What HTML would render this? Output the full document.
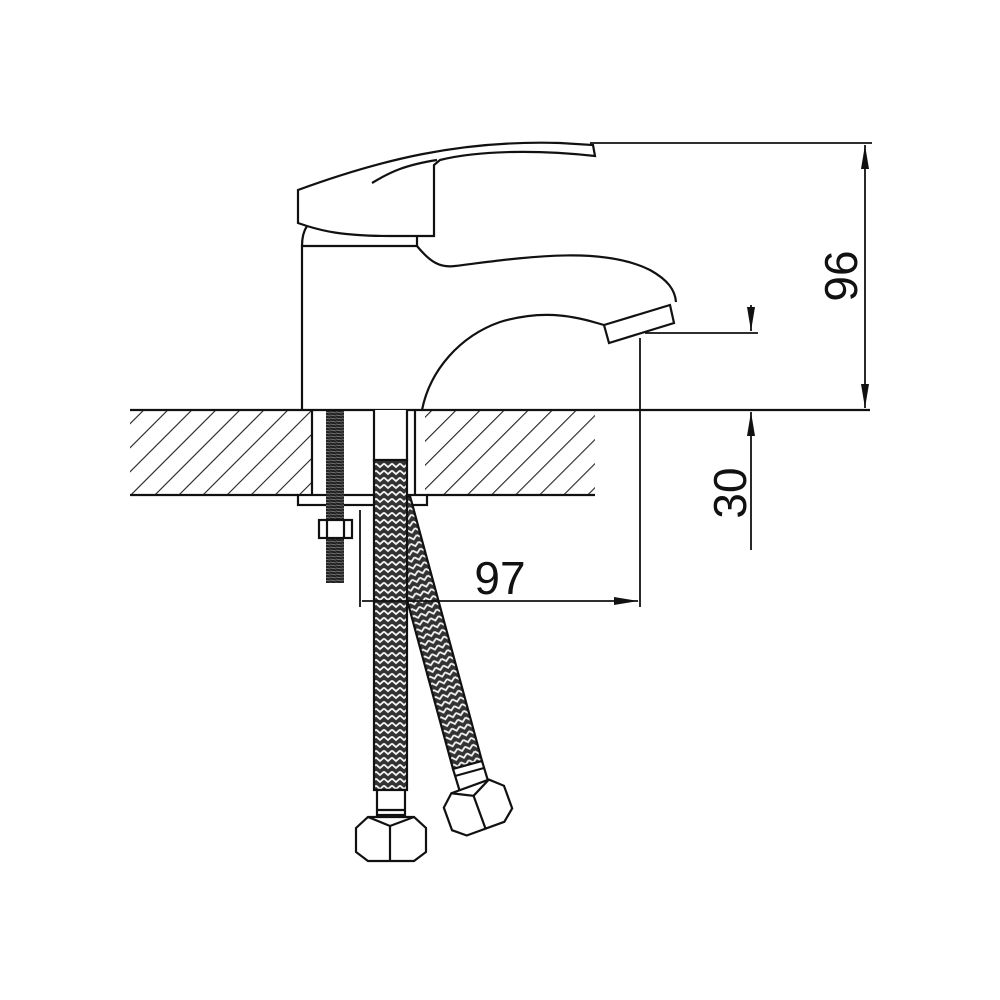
<!DOCTYPE html>
<html><head><style>html,body{margin:0;background:#fff}svg{display:block}</style></head><body>
<svg width="1000" height="1000" viewBox="0 0 1000 1000" xmlns="http://www.w3.org/2000/svg">
<defs>
<pattern id="h" width="17" height="17" patternUnits="userSpaceOnUse" patternTransform="rotate(45)">
<line x1="0" y1="0" x2="0" y2="17" stroke="#222" stroke-width="2.2"/></pattern>
<pattern id="b" width="8" height="7" patternUnits="userSpaceOnUse">
<rect width="8" height="7" fill="#333"/><path d="M0 1.5 L4 5 L8 1.5" stroke="#f4f4f4" stroke-width="1.8" fill="none"/></pattern>
<pattern id="b2" width="8" height="7" patternUnits="userSpaceOnUse" patternTransform="rotate(-15)">
<rect width="8" height="7" fill="#333"/><path d="M0 1.5 L4 5 L8 1.5" stroke="#f4f4f4" stroke-width="1.8" fill="none"/></pattern>
<pattern id="t" width="6" height="3" patternUnits="userSpaceOnUse"><rect width="6" height="3" fill="#222"/><line x1="0" y1="1" x2="6" y2="2" stroke="#888" stroke-width="0.8"/></pattern>
<marker id="a" viewBox="0 0 10 10" refX="10" refY="5" markerWidth="24" markerHeight="10" markerUnits="userSpaceOnUse" orient="auto" preserveAspectRatio="none"><path d="M0 1 L10 5 L0 9z" fill="#111"/></marker>
</defs>
<g stroke="#111" stroke-width="2.2" fill="none">
<!-- slab -->
<rect x="130" y="410" width="465" height="85" fill="url(#h)" stroke="none"/>
<rect x="312" y="411" width="113" height="84" fill="#fff" stroke="none"/>
<line x1="130" y1="410" x2="870" y2="410"/>
<line x1="130" y1="495" x2="298" y2="495"/><line x1="427" y1="495" x2="595" y2="495"/>
<line x1="312" y1="410" x2="312" y2="495"/><line x1="415" y1="410" x2="415" y2="495"/>
<rect x="298" y="495" width="129" height="10" fill="#fff"/>
<!-- bolt -->
<rect x="326" y="411" width="18" height="172" fill="url(#t)" stroke="none"/>
<rect x="319" y="520" width="33" height="18" fill="#fff"/>
<line x1="327" y1="520" x2="327" y2="538"/><line x1="344" y1="520" x2="344" y2="538"/>
<!-- hoses -->
<path d="M381 504 L410 496 L482 761 L453 769 Z" fill="url(#b2)"/>
<path d="M453 769 L482 761 L489 784 L460 792 Z" fill="#fff"/>
<line x1="455" y1="776" x2="484" y2="768"/>
<rect x="374" y="460" width="33" height="330" fill="url(#b)"/>
<path d="M374 410 V460 H407 V410" fill="#fff"/>
<rect x="377" y="790" width="28" height="25" fill="#fff"/>
<line x1="377" y1="810" x2="405" y2="810"/>
<path d="M356 828 L368 817 H414 L426 828 V852 L414 861 H368 L356 852 Z" fill="#fff"/>
<path d="M368 817 L390 826 L414 817 M390 826 V861"/>
<g transform="rotate(-20 478 808)"><path d="M446 796 L458 785 H498 L510 796 V820 L498 830 H458 L446 820 Z" fill="#fff"/><path d="M458 785 L478 795 L498 785 M478 795 V830"/></g>
<!-- faucet body -->
<path d="M302 410 V246 H417 V237"/>
<path d="M417 246 C430 262 440 268 455 266 C520 258 600 245 650 270 C668 280 675 290 676 302"/>
<path d="M604 325 L670 305 L674 323 L609 343 Z" fill="#fff"/>
<path d="M604 325 L597 323 C570 315 540 310 500 322 C460 336 430 370 422 410"/>
<!-- handle -->
<path d="M298 223 V190 C380 160 460 140 560 143 L593 145 L595 156 C540 150 480 150 440 160 L434 165 V236 H390 C340 236 320 230 307 226 Z" fill="#fff"/>
<path d="M307 226 C303 232 302 240 302 246"/>
<path d="M372 183 C390 172 405 165 437 160"/>
<!-- dimensions -->
<g stroke-width="1.8">
<line x1="590" y1="143" x2="872" y2="143"/>
<line x1="865" y1="275" x2="865" y2="145" marker-end="url(#a)"/>
<line x1="865" y1="275" x2="865" y2="408" marker-end="url(#a)"/>
<line x1="645" y1="333" x2="758" y2="333"/>
<line x1="640" y1="338" x2="640" y2="607"/>
<line x1="751" y1="305" x2="751" y2="331" marker-end="url(#a)"/>
<line x1="751" y1="550" x2="751" y2="412" marker-end="url(#a)"/>
<line x1="360" y1="510" x2="360" y2="607"/>
<line x1="362" y1="601" x2="638" y2="601" marker-end="url(#a)"/>
</g>
</g>
<g font-family="Liberation Sans, sans-serif" font-size="46" fill="#111">
<text x="500" y="594" text-anchor="middle">97</text>
<text transform="translate(857 276) rotate(-90)" text-anchor="middle">96</text>
<text transform="translate(746 493) rotate(-90)" text-anchor="middle">30</text>
</g>
</svg>
</body></html>
